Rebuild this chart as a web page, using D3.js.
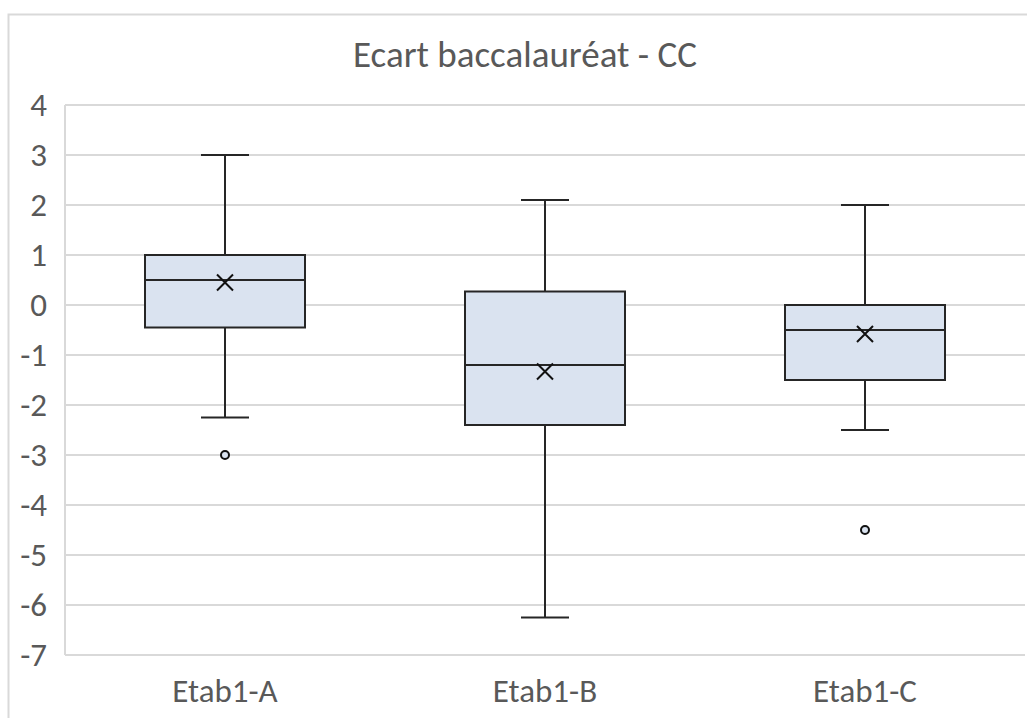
<!DOCTYPE html>
<html>
<head>
<meta charset="utf-8">
<script src="https://cdn.jsdelivr.net/npm/d3@7"></script>
<style>
	body { margin: 0; background: #fff; }
	text { font-family: Calibri, Carlito, "Open Sans", sans-serif; fill: #595959; }
</style>
</head>
<body>
<script>
var categories = ["Etab1-A", "Etab1-B", "Etab1-C"];
var whiskerHigh = [3, 2.1, 2];
var q3 = [1, 0.27, 0];
var median = [0.5, -1.2, -0.5];
var q1 = [-0.45, -2.4, -1.5];
var whiskerLow = [-2.25, -6.25, -2.5];
var means = [0.45, -1.33, -0.58];
var outliers = [[-3], [], [-4.5]];
var yTicks = [4, 3, 2, 1, 0, -1, -2, -3, -4, -5, -6, -7];

function main(){
	var w = 1027;
	var h = 718;

	var svg = d3.select("body")
				.append("svg")
				.attr("width", w)
				.attr("height", h);

	// chart frame
	svg.append("rect")
		.attr("x", 8.5).attr("y", 14.5)
		.attr("width", 1100).attr("height", 800)
		.attr("fill", "none")
		.attr("stroke", "#d9d9d9")
		.attr("stroke-width", 2);

	svg.append("text")
		.attr("x", 525).attr("y", 67)
		.attr("text-anchor", "middle")
		.attr("font-size", 37)
		.text("Ecart baccalauréat - CC");

	var x = d3.scaleBand().domain(categories).range([65, 1025]);
	var y = d3.scaleLinear().domain([-7, 4]).range([655, 105]);

	// gridlines
	svg.selectAll("line.grid")
		.data(yTicks)
		.enter()
		.append("line")
		.attr("class", "grid")
		.attr("x1", 65).attr("x2", 1025)
		.attr("y1", function(d){ return y(d); })
		.attr("y2", function(d){ return y(d); })
		.attr("stroke", "#d9d9d9")
		.attr("stroke-width", 2);

	svg.append("line")
		.attr("x1", 65).attr("x2", 65)
		.attr("y1", y(4)).attr("y2", y(-7))
		.attr("stroke", "#d9d9d9")
		.attr("stroke-width", 2);

	svg.selectAll("text.ytick")
		.data(yTicks)
		.enter()
		.append("text")
		.attr("class", "ytick")
		.attr("x", 47)
		.attr("y", function(d){ return y(d); })
		.attr("dy", "0.34em")
		.attr("text-anchor", "end")
		.attr("font-size", 33)
		.text(function(d){ return d; });

	svg.selectAll("text.xlab")
		.data(categories)
		.enter()
		.append("text")
		.attr("class", "xlab")
		.attr("x", function(d){ return x(d) + x.bandwidth() / 2; })
		.attr("y", 702)
		.attr("text-anchor", "middle")
		.attr("font-size", 33)
		.text(function(d){ return d; });

	var stroke = "#262626";
	var bw = x.bandwidth() * 0.5;
	var cap = 24;

	var boxes = svg.selectAll("g.box")
		.data(categories)
		.enter()
		.append("g")
		.attr("class", "box")
		.attr("transform", function(d){ return "translate(" + (x(d) + x.bandwidth() / 2) + ",0)"; });

	// whiskers
	boxes.append("line")
		.attr("x1", 0).attr("x2", 0)
		.attr("y1", function(d, i){ return y(whiskerHigh[i]); })
		.attr("y2", function(d, i){ return y(whiskerLow[i]); })
		.attr("stroke", stroke).attr("stroke-width", 2);
	boxes.append("line")
		.attr("x1", -cap).attr("x2", cap)
		.attr("y1", function(d, i){ return y(whiskerHigh[i]); })
		.attr("y2", function(d, i){ return y(whiskerHigh[i]); })
		.attr("stroke", stroke).attr("stroke-width", 2);
	boxes.append("line")
		.attr("x1", -cap).attr("x2", cap)
		.attr("y1", function(d, i){ return y(whiskerLow[i]); })
		.attr("y2", function(d, i){ return y(whiskerLow[i]); })
		.attr("stroke", stroke).attr("stroke-width", 2);

	boxes.append("rect")
		.attr("x", -bw / 2)
		.attr("width", bw)
		.attr("y", function(d, i){ return y(q3[i]); })
		.attr("height", function(d, i){ return y(q1[i]) - y(q3[i]); })
		.attr("fill", "#dae3f0")
		.attr("stroke", stroke)
		.attr("stroke-width", 2);

	boxes.append("line")
		.attr("x1", -bw / 2).attr("x2", bw / 2)
		.attr("y1", function(d, i){ return y(median[i]); })
		.attr("y2", function(d, i){ return y(median[i]); })
		.attr("stroke", stroke).attr("stroke-width", 2);

	// mean marker
	var m = 8;
	boxes.append("path")
		.attr("d", function(d, i){
			var cy = y(means[i]);
			return "M" + (-m) + "," + (cy - m) + "L" + m + "," + (cy + m) +
				"M" + (-m) + "," + (cy + m) + "L" + m + "," + (cy - m);
		})
		.attr("stroke", "#111")
		.attr("stroke-width", 2)
		.attr("fill", "none");

	boxes.selectAll("circle")
		.data(function(d, i){ return outliers[i]; })
		.enter()
		.append("circle")
		.attr("cx", 0)
		.attr("cy", function(d){ return y(d); })
		.attr("r", 4)
		.attr("fill", "#dae3f0")
		.attr("stroke", "#111")
		.attr("stroke-width", 2);
}

main();
</script>
</body>
</html>
